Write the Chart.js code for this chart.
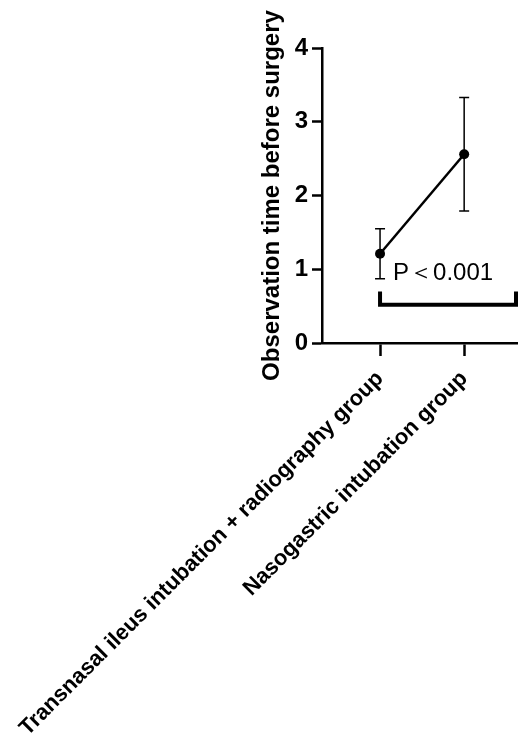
<!DOCTYPE html>
<html>
<head>
<meta charset="utf-8">
<script src="https://cdn.jsdelivr.net/npm/chart.js@4"></script>
<style>
  html, body { margin: 0; padding: 0; background: #fff; overflow: hidden; }
  #wrap { width: 518px; height: 742px; }
  canvas { display: block; }
</style>
</head>
<body>
<div id="wrap"><canvas id="grafica"></canvas></div>
<script>
const categorias = ['Transnasal ileus intubation + radiography group', 'Nasogastric intubation group'];
const posiciones = [1, 2];
const medias = [1.21, 2.56];
const errorBajo = [0.87, 1.79];
const errorAlto = [1.55, 3.33];
const ticksY = [0, 1, 2, 3, 4];
const textoP = 'P\uFF1C0.001';
const corcheteY = [0.52, 0.70];

const fuente = "'Liberation Sans', Arial, sans-serif";

const barrasError = {
    id: 'barrasError',
    afterDatasetsDraw(chart) {
        const ctx = chart.ctx;
        const x = chart.scales.x, y = chart.scales.y;
        ctx.save();
        ctx.strokeStyle = '#000';
        ctx.lineWidth = 1.5;
        posiciones.forEach(function (p, i) {
            const px = x.getPixelForValue(p);
            const y1 = y.getPixelForValue(errorBajo[i]);
            const y2 = y.getPixelForValue(errorAlto[i]);
            ctx.beginPath();
            ctx.moveTo(px, y1); ctx.lineTo(px, y2);
            ctx.moveTo(px - 5, y1); ctx.lineTo(px + 5, y1);
            ctx.moveTo(px - 5, y2); ctx.lineTo(px + 5, y2);
            ctx.stroke();
        });
        ctx.restore();
    },
    afterDraw(chart) {
        const ctx = chart.ctx;
        const x = chart.scales.x, y = chart.scales.y;
        const xa = x.getPixelForValue(posiciones[0]);
        const xb = chart.width - 2;
        const yb = y.getPixelForValue(corcheteY[0]);
        const yt = y.getPixelForValue(corcheteY[1]);
        ctx.save();
        ctx.strokeStyle = '#000';
        ctx.lineWidth = 4;
        ctx.lineCap = 'butt';
        ctx.lineJoin = 'miter';
        ctx.beginPath();
        ctx.moveTo(xa, yt); ctx.lineTo(xa, yb); ctx.lineTo(xb, yb); ctx.lineTo(xb, yt);
        ctx.stroke();
        ctx.fillStyle = '#000';
        ctx.font = '24px ' + fuente;
        ctx.textAlign = 'left';
        ctx.textBaseline = 'alphabetic';
        ctx.fillText(textoP, xa + 13, y.getPixelForValue(0.85));
        ctx.restore();
    }
};

const ctx = document.getElementById('grafica').getContext('2d');
new Chart(ctx, {
    type: 'line',
    data: {
        datasets: [{
            data: posiciones.map((p, i) => ({ x: p, y: medias[i] })),
            borderColor: '#000',
            backgroundColor: '#000',
            borderWidth: 2.5,
            pointRadius: 5,
            pointBackgroundColor: '#000',
            pointBorderWidth: 0,
            tension: 0
        }]
    },
    options: {
        responsive: true,
        maintainAspectRatio: false,
        animation: false,
        layout: { autoPadding: false, padding: { left: 258, top: 48, right: 0, bottom: 0 } },
        plugins: {
            legend: { display: false },
            tooltip: { enabled: false }
        },
        scales: {
            x: {
                type: 'linear',
                min: 0.31,
                max: 2.64,
                afterBuildTicks: function (scale) {
                    scale.ticks = posiciones.map(v => ({ value: v }));
                },
                afterFit: function (scale) {
                    scale.height = 399;
                    scale.paddingLeft = 0;
                    scale.paddingRight = 0;
                },
                border: { color: '#000', width: 2.5 },
                grid: { drawOnChartArea: false, tickLength: 13, tickWidth: 2.5, tickColor: '#000' },
                ticks: {
                    minRotation: 45,
                    maxRotation: 45,
                    padding: 10,
                    color: '#000',
                    font: { family: fuente, size: 22, weight: 'bold' },
                    callback: function (v) { return categorias[posiciones.indexOf(v)]; }
                }
            },
            y: {
                min: 0,
                max: 4,
                afterBuildTicks: function (scale) {
                    scale.ticks = ticksY.map(v => ({ value: v }));
                },
                afterFit: function (scale) {
                    scale.width = 64;
                    scale.paddingTop = 0;
                    scale.paddingBottom = 0;
                    scale.paddingRight = 0;
                },
                border: { color: '#000', width: 2.5 },
                grid: { drawOnChartArea: false, tickLength: 10, tickWidth: 2.5, tickColor: '#000' },
                ticks: {
                    padding: 4,
                    color: '#000',
                    font: { family: fuente, size: 24, weight: 'bold' }
                },
                title: {
                    display: true,
                    text: 'Observation time before surgery',
                    color: '#000',
                    padding: 0,
                    font: { family: fuente, size: 24, weight: 'bold' }
                }
            }
        }
    },
    plugins: [barrasError]
});
</script>
</body>
</html>
